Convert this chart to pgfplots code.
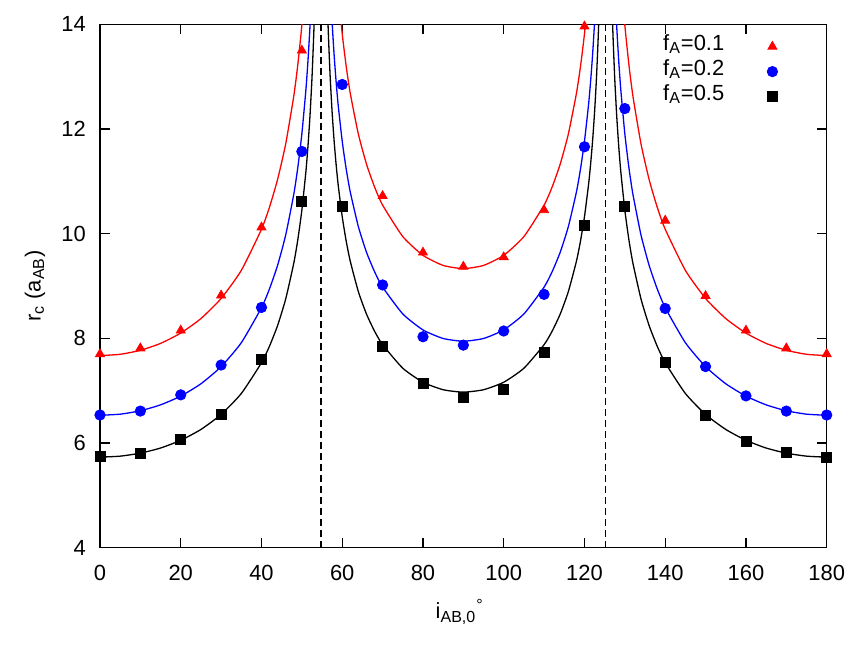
\documentclass[border=0pt,11pt]{standalone}
\usepackage{fontspec}
\setmainfont{Liberation Sans}
\usepackage{pgfplots}
\pgfplotsset{compat=1.18}
\definecolor{cred}{RGB}{255,0,0}
\definecolor{cblue}{RGB}{0,0,255}
\begin{document}
\begin{tikzpicture}
\begin{axis}[
  scale only axis,
  width=363.35pt, height=261.7pt,
  xmin=0, xmax=180, ymin=4, ymax=14,
  xtick={0,20,...,180}, ytick={4,6,...,14},
  tick align=inside, major tick length=5pt,
  tick style={line width=0.7pt, black},
  axis line style={line width=0.75pt},
  /pgf/number format/assume math mode=true,
  xticklabel style={yshift=-5pt},
  yticklabel style={xshift=-3.3pt},
  xlabel={i\textsubscript{AB,0}\textsuperscript{°}},
  ylabel={r\textsubscript{c} (a\textsubscript{AB})},
  xlabel style={at={(axis description cs:0.495,-0.0985)}, anchor=north, inner sep=0pt},
  ylabel style={at={(axis description cs:-0.0894,0.5)}, anchor=center, inner sep=0pt},
  clip mode=individual,
  legend plot pos=right,
  legend cell align=right,
  legend style={draw=none, fill=none, at={(rel axis cs:0.933,0.982)}, anchor=north east,
    inner sep=0pt, column sep=21.5pt,
    nodes={inner sep=0pt, text height=8pt, text depth=4.5pt}},
  curve/.style={forget plot, line width=0.65pt, smooth, tension=0.35},
]
% dashed magic-angle lines
\addplot[forget plot, black, line width=0.7pt, dash pattern=on 3.3pt off 2.2pt] coordinates {(54.7356,4) (54.7356,14)};
\addplot[forget plot, black, line width=0.7pt, dash pattern=on 3.3pt off 2.2pt] coordinates {(125.2644,4) (125.2644,14)};
% red curves
\addplot[curve, cred] table {
0 7.670
5 7.695
10 7.771
15 7.903
20 8.100
25 8.378
30 8.761
35 9.298
40 10.084
42 10.511
44 11.039
46 11.716
48 12.630
49 13.232
50 13.985
51 14.973
};
\addplot[curve, cred] table {
58.5 15.139
59 14.629
60 13.817
61 13.186
62 12.677
64 11.901
66 11.331
68 10.893
70 10.546
75 9.944
80 9.586
85 9.393
90 9.332
95 9.393
100 9.586
105 9.944
110 10.546
112 10.893
114 11.331
116 11.901
118 12.677
119 13.186
120 13.817
121 14.629
121.5 15.139
};
\addplot[curve, cred] table {
129 14.973
130 13.985
131 13.232
132 12.630
134 11.716
136 11.039
138 10.511
140 10.084
145 9.298
150 8.761
155 8.378
160 8.100
165 7.903
170 7.771
175 7.695
180 7.670
};
% blue curves
\addplot[curve, cblue] table {
0 6.530
5 6.551
10 6.616
15 6.729
20 6.896
25 7.132
30 7.459
35 7.916
40 8.586
42 8.949
44 9.398
46 9.975
48 10.753
49 11.266
50 11.906
51 12.748
51.5 13.285
52 13.943
52.5 14.772
};
\addplot[curve, cblue] table {
57 14.835
57.5 14.034
58 13.404
58.5 12.889
59 12.455
60 11.763
61 11.226
62 10.793
64 10.133
66 9.647
68 9.274
70 8.979
75 8.466
80 8.161
85 7.997
90 7.945
95 7.997
100 8.161
105 8.466
110 8.979
112 9.274
114 9.647
116 10.133
118 10.793
119 11.226
120 11.763
121 12.455
121.5 12.889
122 13.404
122.5 14.034
123 14.835
};
\addplot[curve, cblue] table {
127.5 14.772
128 13.943
128.5 13.285
129 12.748
130 11.906
131 11.266
132 10.753
134 9.975
136 9.398
138 8.949
140 8.586
145 7.916
150 7.459
155 7.132
160 6.896
165 6.729
170 6.616
175 6.551
180 6.530
};
% black curves
\addplot[curve, black] table {
0 5.730
5 5.749
10 5.806
15 5.904
20 6.052
25 6.259
30 6.545
35 6.946
40 7.534
42 7.853
44 8.247
46 8.753
48 9.436
49 9.885
50 10.448
51 11.186
51.5 11.657
52 12.234
52.5 12.962
53 13.935
53.5 15.354
};
\addplot[curve, black] table {
56 15.320
56.5 13.957
57 13.017
57.5 12.315
58 11.762
58.5 11.310
59 10.929
60 10.322
61 9.851
62 9.470
64 8.891
66 8.465
68 8.138
70 7.879
75 7.429
80 7.161
85 7.018
90 6.972
95 7.018
100 7.161
105 7.429
110 7.879
112 8.138
114 8.465
116 8.891
118 9.470
119 9.851
120 10.322
121 10.929
121.5 11.310
122 11.762
122.5 12.315
123 13.017
123.5 13.957
124 15.320
};
\addplot[curve, black] table {
126.5 15.354
127 13.935
127.5 12.962
128 12.234
128.5 11.657
129 11.186
130 10.448
131 9.885
132 9.436
134 8.753
136 8.247
138 7.853
140 7.534
145 6.946
150 6.545
155 6.259
160 6.052
165 5.904
170 5.806
175 5.749
180 5.730
};
% data points
\addplot[only marks, mark=triangle*, mark size=2.6pt, color=cred] table {
0 7.70
10 7.81
20 8.15
30 8.82
40 10.12
50 13.50
70 10.72
80 9.64
90 9.37
100 9.55
110 10.45
120 13.96
140 10.25
150 8.81
160 8.15
170 7.81
180 7.70
};
\addlegendentry{f\textsubscript{A}=0.1}
\addplot[only marks, mark=*, mark size=2.6pt, color=cblue] table {
0 6.535
10 6.61
20 6.92
30 7.49
40 8.59
50 11.57
60 12.85
70 9.02
80 8.03
90 7.87
100 8.14
110 8.84
120 11.66
130 12.39
140 8.57
150 7.46
160 6.90
170 6.61
180 6.535
};
\addlegendentry{f\textsubscript{A}=0.2}
\addplot[only marks, mark=square*, mark size=2.5pt, color=black] table {
0 5.75
10 5.80
20 6.06
30 6.55
40 7.605
50 10.62
60 10.53
70 7.85
80 7.13
90 6.87
100 7.03
110 7.73
120 10.16
130 10.52
140 7.535
150 6.535
160 6.03
170 5.82
180 5.73
};
\addlegendentry{f\textsubscript{A}=0.5}
\end{axis}
\pgfresetboundingbox
\path[use as bounding box] ([xshift=-50pt,yshift=-51.65pt]current axis.south west) rectangle ([xshift=384pt,yshift=273.85pt]current axis.south west);
\end{tikzpicture}
\end{document}
